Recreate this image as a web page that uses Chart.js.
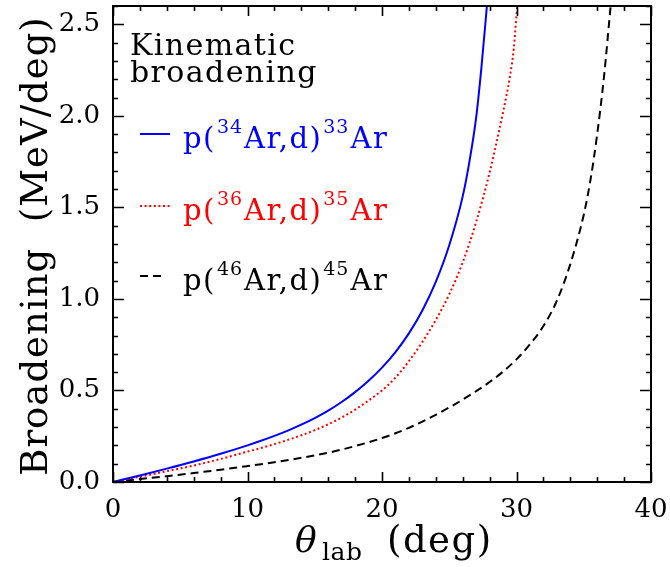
<!DOCTYPE html>
<html>
<head>
<meta charset="utf-8">
<script src="https://cdn.jsdelivr.net/npm/chart.js@4/dist/chart.umd.min.js"></script>
<style>
  html, body { margin: 0; padding: 0; background: #ffffff; }
  #wrap { width: 670px; height: 567px; }
</style>
</head>
<body>
<div id="wrap"><canvas id="c" width="670" height="567"></canvas></div>
<script>
// Lab angle (deg) and kinematic broadening (MeV/deg) for each reaction
const theta34 = [0, 2, 4, 6, 8, 10, 11, 12, 13, 14, 15, 16, 17, 18, 19, 20, 21, 22, 23, 24, 25, 26, 26.5, 27, 27.4, 27.8];
const broad34 = [0, 0.036, 0.073, 0.112, 0.154, 0.200, 0.225, 0.252, 0.281, 0.313, 0.349, 0.390, 0.437, 0.491, 0.553, 0.625, 0.710, 0.812, 0.937, 1.093, 1.293, 1.56, 1.75, 1.99, 2.27, 2.6];

const theta36 = [0, 2, 4, 6, 8, 10, 11, 12, 13, 14, 15, 16, 17, 18, 19, 20, 21, 22, 23, 24, 25, 26, 27, 28, 28.5, 29, 29.5, 29.8, 30.05];
const broad36 = [0, 0.029, 0.059, 0.09, 0.126, 0.166, 0.186, 0.207, 0.230, 0.255, 0.283, 0.315, 0.352, 0.395, 0.445, 0.500, 0.570, 0.660, 0.765, 0.885, 1.025, 1.20, 1.42, 1.69, 1.85, 2.02, 2.21, 2.37, 2.6];

const theta46 = [0, 2, 4, 6, 8, 10, 12, 14, 16, 17, 18, 19, 20, 21, 22, 23, 24, 25, 26, 27, 28, 29, 30, 31, 32, 33, 34, 35, 35.5, 36, 36.5, 37.0];
const broad46 = [0, 0.016, 0.032, 0.049, 0.067, 0.087, 0.108, 0.132, 0.160, 0.177, 0.196, 0.217, 0.240, 0.266, 0.296, 0.330, 0.367, 0.407, 0.450, 0.496, 0.546, 0.603, 0.670, 0.752, 0.852, 0.99, 1.19, 1.46, 1.65, 1.90, 2.21, 2.6];

// Legend entries: [beam mass, residual mass]
const reactions = [["34", "33"], ["36", "35"], ["46", "45"]];
const legendHeading = ["Kinematic", "broadening"];

// Axis ranges and tick spacing
const xRange = [0, 40], xMajor = 10, xMinor = 2;
const yRange = [0, 2.6], yMajor = 0.5, yMinor = 0.1;

const SERIF = "'DejaVu Serif', serif";
const pts = (xs, ys) => xs.map((x, i) => ({ x: x, y: ys[i] }));

const styles = [
  { color: "#0000ff", dash: [] },
  { color: "#ff0000", dash: [2, 2.6] },
  { color: "#000000", dash: [8, 5] }
];
const series = [[theta34, broad34], [theta36, broad36], [theta46, broad46]];

// Draws a run of text pieces left to right; each piece may be raised/lowered
function drawRuns(ctx, x, y, runs, color) {
  ctx.save();
  ctx.fillStyle = color;
  ctx.textAlign = "left";
  ctx.textBaseline = "alphabetic";
  let cx = x;
  for (const r of runs) {
    ctx.font = r.font;
    if ("letterSpacing" in ctx) ctx.letterSpacing = (r.ls || 0) + "px";
    ctx.fillText(r.text, cx, y + (r.dy || 0));
    cx += ctx.measureText(r.text).width + (r.gap || 0);
  }
  ctx.restore();
  return cx;
}

// Frame with inward major/minor ticks on all four sides
const framePlugin = {
  id: "frame",
  afterDatasetsDraw(chart) {
    const { ctx, chartArea: a, scales: { x, y } } = chart;
    ctx.save();
    ctx.strokeStyle = "#000";
    ctx.lineWidth = 1.6;
    const near = (v, s) => Math.abs(v / s - Math.round(v / s)) < 1e-6;
    for (let v = xRange[0]; v <= xRange[1] + 1e-9; v += xMinor) {
      const px = Math.round(x.getPixelForValue(v)) + 0.5;
      const len = near(v, xMajor) ? 10 : 5;
      ctx.beginPath();
      ctx.moveTo(px, a.bottom); ctx.lineTo(px, a.bottom - len);
      ctx.moveTo(px, a.top); ctx.lineTo(px, a.top + len);
      ctx.stroke();
    }
    for (let v = yRange[0]; v <= yRange[1] + 1e-9; v += yMinor) {
      const py = Math.round(y.getPixelForValue(v)) + 0.5;
      const len = near(v, yMajor) ? 11 : 5;
      ctx.beginPath();
      ctx.moveTo(a.left, py); ctx.lineTo(a.left + len, py);
      ctx.moveTo(a.right, py); ctx.lineTo(a.right - len, py);
      ctx.stroke();
    }
    ctx.lineWidth = 2;
    ctx.strokeRect(a.left, a.top, a.right - a.left, a.bottom - a.top);
    ctx.restore();
  }
};

// Axis titles with Greek letter and subscript
const titlePlugin = {
  id: "titles",
  afterDraw(chart) {
    const { ctx, chartArea: a } = chart;
    // x title
    drawRuns(ctx, 295, 552, [{ text: "\u03B8", font: "italic 36px " + SERIF }], "#000");
    drawRuns(ctx, 322, 560, [{ text: "lab", font: "25px " + SERIF, ls: 0.5 }], "#000");
    drawRuns(ctx, 387, 552, [{ text: "(deg)", font: "37px " + SERIF, ls: 1.5 }], "#000");
    // y title
    ctx.save();
    ctx.translate(47, (a.top + a.bottom) / 2 + 2);
    ctx.rotate(-Math.PI / 2);
    ctx.font = "37px " + SERIF;
    if ("letterSpacing" in ctx) ctx.letterSpacing = "1px";
    ctx.fillStyle = "#000";
    ctx.textAlign = "center";
    ctx.textBaseline = "alphabetic";
    ctx.fillText("Broadening  (MeV/deg)", 0, 0);
    ctx.restore();
  }
};

// Legend block in the upper left of the plot
const legendPlugin = {
  id: "reactionLegend",
  afterDraw(chart) {
    const ctx = chart.ctx;
    const headFont = "30px " + SERIF;
    drawRuns(ctx, 130, 55, [{ text: legendHeading[0], font: headFont, ls: 1.4 }], "#000");
    drawRuns(ctx, 130, 82, [{ text: legendHeading[1], font: headFont, ls: 1.4 }], "#000");
    const rowBase = [148, 220, 290];
    const main = "29px " + SERIF, sup = "19px " + SERIF;
    chart.data.datasets.forEach((ds, i) => {
      const yb = rowBase[i];
      const ly = yb - 14;
      ctx.save();
      ctx.strokeStyle = ds.borderColor;
      ctx.lineWidth = ds.borderWidth;
      ctx.setLineDash(ds.borderDash || []);
      ctx.beginPath();
      ctx.moveTo(140, ly); ctx.lineTo(i === 2 ? 166 : 170, ly);
      ctx.stroke();
      ctx.restore();
      const [a, b] = reactions[i];
      drawRuns(ctx, 183, yb, [
        { text: "p(", font: main, ls: 1.5, gap: 1 },
        { text: a, font: sup, ls: 1, dy: -15, gap: 1 },
        { text: "Ar,d)", font: main, ls: 1.5, gap: 1 },
        { text: b, font: sup, ls: 1, dy: -15, gap: 1 },
        { text: "Ar", font: main, ls: 1.5 }
      ], ds.borderColor);
    });
  }
};

Chart.defaults.font.family = SERIF;
Chart.defaults.color = "#000";

new Chart(document.getElementById("c"), {
  type: "line",
  data: {
    datasets: series.map((s, i) => ({
      data: pts(s[0], s[1]),
      borderColor: styles[i].color,
      borderDash: styles[i].dash,
      borderWidth: 2,
      pointRadius: 0,
      fill: false,
      cubicInterpolationMode: "monotone"
    }))
  },
  options: {
    responsive: false,
    animation: false,
    devicePixelRatio: 1,
    layout: { padding: { top: 6, right: 19, left: 0, bottom: 0 } },
    plugins: { legend: { display: false }, tooltip: { enabled: false } },
    scales: {
      x: {
        type: "linear",
        min: xRange[0], max: xRange[1],
        grid: { display: false, drawTicks: false },
        border: { display: false },
        ticks: { stepSize: xMajor, padding: 13, font: { size: 26 }, maxRotation: 0, includeBounds: false },
        afterFit(s) { s.height = 85; s.paddingLeft = 0; s.paddingRight = 0; }
      },
      y: {
        type: "linear",
        min: yRange[0], max: yRange[1],
        grid: { display: false, drawTicks: false },
        border: { display: false },
        ticks: { stepSize: yMajor, padding: 13, font: { size: 26 }, includeBounds: false,
                 callback: v => Number(v).toFixed(1) },
        afterFit(s) { s.width = 113; s.paddingTop = 0; s.paddingBottom = 0; }
      }
    }
  },
  plugins: [framePlugin, titlePlugin, legendPlugin]
});
</script>
</body>
</html>
